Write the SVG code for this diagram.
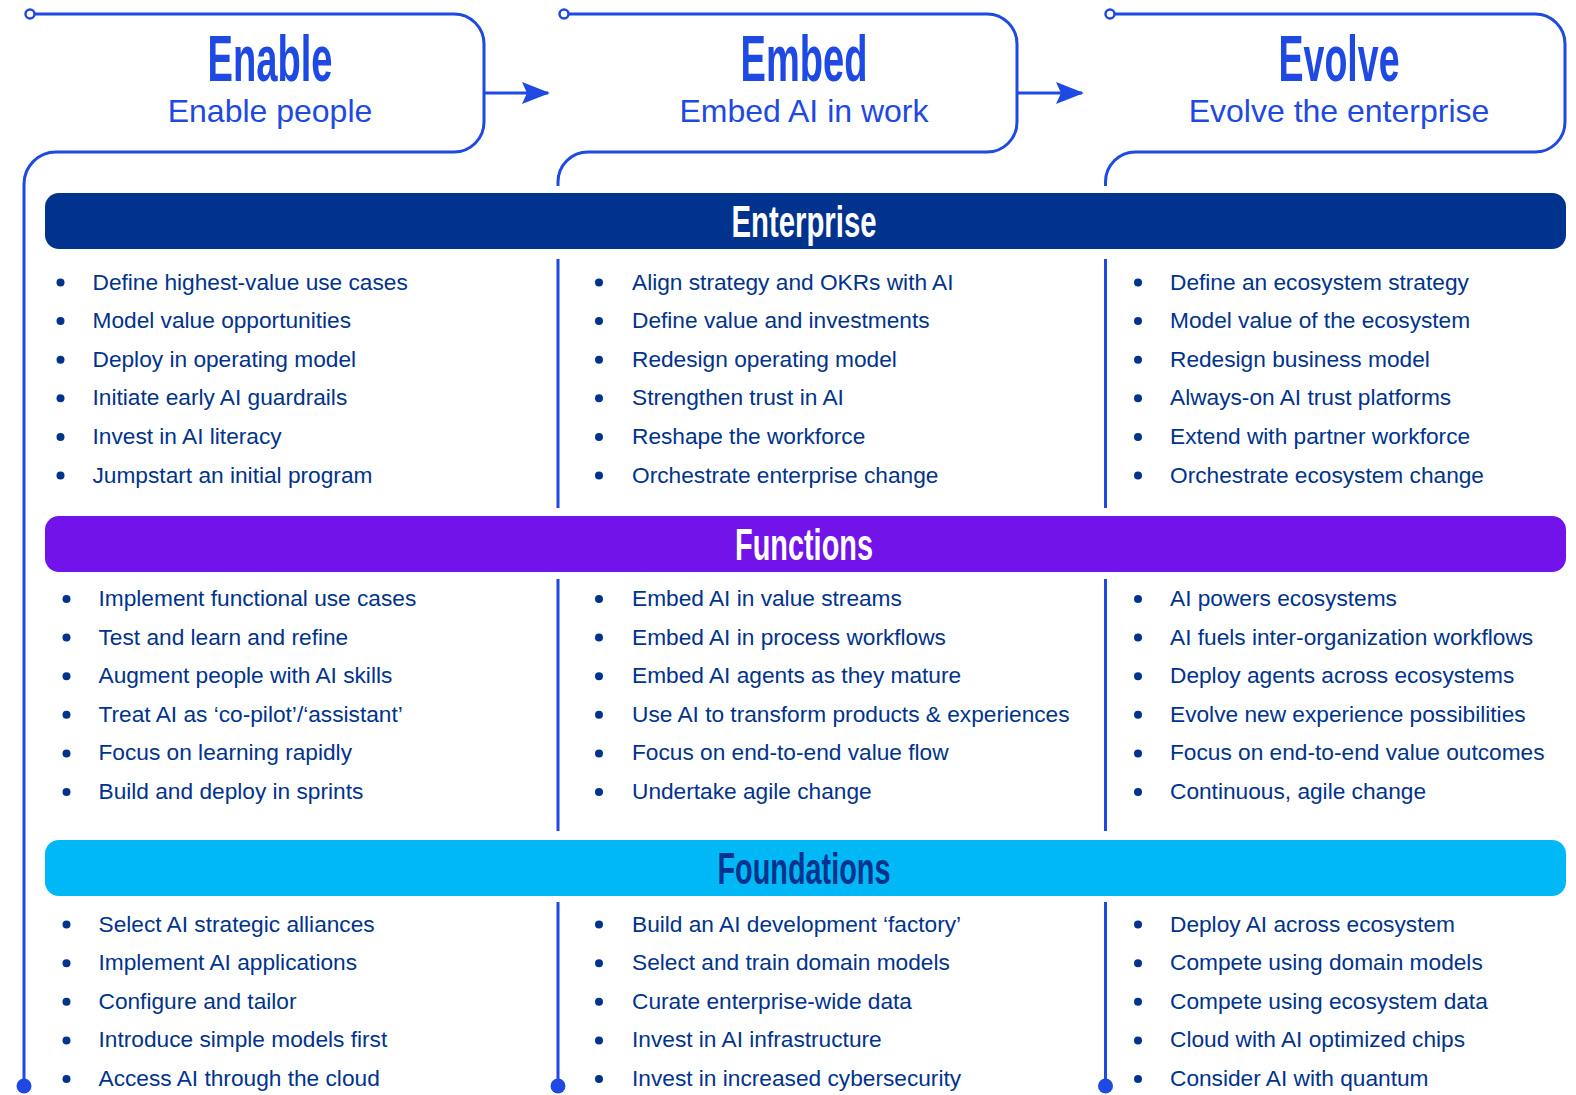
<svg xmlns="http://www.w3.org/2000/svg" width="1576" height="1095" viewBox="0 0 1576 1095">
<defs>
<style>
.ln{fill:none;stroke:#1E49E2;stroke-width:3}
.oc{fill:#fff;stroke:#1E49E2;stroke-width:2.5}
.dot{fill:#1E49E2}
.h{font-family:"Liberation Sans",Arial,sans-serif;font-weight:700;font-size:64px;fill:#1E49E2;text-anchor:middle}
.sub{font-family:"Liberation Sans",Arial,sans-serif;font-size:32px;fill:#1E49E2;text-anchor:middle}
.bt{font-family:"Liberation Sans",Arial,sans-serif;font-weight:700;font-size:45px;text-anchor:middle}
.it{font-family:"Liberation Sans",Arial,sans-serif;font-size:22.7px;fill:#00338D}
.b{fill:#00338D}
</style>
<marker id="ah" viewBox="0 0 28 22" refX="26" refY="11" markerWidth="28" markerHeight="22" markerUnits="userSpaceOnUse" orient="auto">
<path d="M0,0 L28,11 L0,22 L5,11 Z" fill="#1E49E2"/>
</marker>
</defs>
<rect width="1576" height="1095" fill="#fff"/>

<g id="connectors">
<path class="ln" d="M484,93 H548" marker-end="url(#ah)"/>
<path class="ln" d="M1017,93 H1082" marker-end="url(#ah)"/>
</g>

<g id="phase-enable">
<path class="ln" d="M34,14 H454 A30,30 0 0 1 484,44 V122 A30,30 0 0 1 454,152 H56 A32,32 0 0 0 24,184 V1084"/>
<circle class="oc" cx="30" cy="14" r="4.5"/>
<circle class="dot" cx="24" cy="1086" r="7.5"/>
<text class="h" x="270" y="81" textLength="125" lengthAdjust="spacingAndGlyphs">Enable</text>
<text class="sub" x="270" y="122">Enable people</text>
</g>

<g id="phase-embed">
<path class="ln" d="M568,14 H987 A30,30 0 0 1 1017,44 V122 A30,30 0 0 1 987,152 H588 A30,30 0 0 0 558,182 V186"/>
<path class="ln" d="M558,259 V508 M558,579 V831 M558,902 V1084"/>
<circle class="oc" cx="564" cy="14" r="4.5"/>
<circle class="dot" cx="558" cy="1086" r="7.5"/>
<text class="h" x="804" y="81" textLength="127" lengthAdjust="spacingAndGlyphs">Embed</text>
<text class="sub" x="804" y="122">Embed AI in work</text>
</g>

<g id="phase-evolve">
<path class="ln" d="M1114,14 H1535 A30,30 0 0 1 1565,44 V122 A30,30 0 0 1 1535,152 H1135.5 A30,30 0 0 0 1105.5,182 V186"/>
<path class="ln" d="M1105.5,259 V508 M1105.5,579 V831 M1105.5,902 V1084"/>
<circle class="oc" cx="1110" cy="14" r="4.5"/>
<circle class="dot" cx="1105.5" cy="1086" r="7.5"/>
<text class="h" x="1339" y="81" textLength="121" lengthAdjust="spacingAndGlyphs">Evolve</text>
<text class="sub" x="1339" y="122">Evolve the enterprise</text>
</g>

<g id="band-enterprise">
<rect x="45" y="193" width="1521" height="56" rx="14" fill="#00338D"/>
<text class="bt" x="804" y="237" fill="#fff" textLength="145" lengthAdjust="spacingAndGlyphs">Enterprise</text>
</g>
<g id="band-functions">
<rect x="45" y="516" width="1521" height="56" rx="14" fill="#7213EA"/>
<text class="bt" x="804" y="560" fill="#fff" textLength="138" lengthAdjust="spacingAndGlyphs">Functions</text>
</g>
<g id="band-foundations">
<rect x="45" y="840" width="1521" height="56" rx="14" fill="#00B8F5"/>
<text class="bt" x="804" y="884" fill="#00338D" textLength="173" lengthAdjust="spacingAndGlyphs">Foundations</text>
</g>

<g id="enterprise-enable">
<circle class="b" cx="60.5" cy="282.5" r="4"/><text class="it" x="92.5" y="289.5">Define highest-value use cases</text>
<circle class="b" cx="60.5" cy="321.1" r="4"/><text class="it" x="92.5" y="328.1">Model value opportunities</text>
<circle class="b" cx="60.5" cy="359.7" r="4"/><text class="it" x="92.5" y="366.7">Deploy in operating model</text>
<circle class="b" cx="60.5" cy="398.3" r="4"/><text class="it" x="92.5" y="405.3">Initiate early AI guardrails</text>
<circle class="b" cx="60.5" cy="436.9" r="4"/><text class="it" x="92.5" y="443.9">Invest in AI literacy</text>
<circle class="b" cx="60.5" cy="475.5" r="4"/><text class="it" x="92.5" y="482.5">Jumpstart an initial program</text>
</g>
<g id="enterprise-embed">
<circle class="b" cx="599" cy="282.5" r="4"/><text class="it" x="632" y="289.5">Align strategy and OKRs with AI</text>
<circle class="b" cx="599" cy="321.1" r="4"/><text class="it" x="632" y="328.1">Define value and investments</text>
<circle class="b" cx="599" cy="359.7" r="4"/><text class="it" x="632" y="366.7">Redesign operating model</text>
<circle class="b" cx="599" cy="398.3" r="4"/><text class="it" x="632" y="405.3">Strengthen trust in AI</text>
<circle class="b" cx="599" cy="436.9" r="4"/><text class="it" x="632" y="443.9">Reshape the workforce</text>
<circle class="b" cx="599" cy="475.5" r="4"/><text class="it" x="632" y="482.5">Orchestrate enterprise change</text>
</g>
<g id="enterprise-evolve">
<circle class="b" cx="1138" cy="282.5" r="4"/><text class="it" x="1170" y="289.5">Define an ecosystem strategy</text>
<circle class="b" cx="1138" cy="321.1" r="4"/><text class="it" x="1170" y="328.1">Model value of the ecosystem</text>
<circle class="b" cx="1138" cy="359.7" r="4"/><text class="it" x="1170" y="366.7">Redesign business model</text>
<circle class="b" cx="1138" cy="398.3" r="4"/><text class="it" x="1170" y="405.3">Always-on AI trust platforms</text>
<circle class="b" cx="1138" cy="436.9" r="4"/><text class="it" x="1170" y="443.9">Extend with partner workforce</text>
<circle class="b" cx="1138" cy="475.5" r="4"/><text class="it" x="1170" y="482.5">Orchestrate ecosystem change</text>
</g>

<g id="functions-enable">
<circle class="b" cx="66.5" cy="599" r="4"/><text class="it" x="98.5" y="606">Implement functional use cases</text>
<circle class="b" cx="66.5" cy="637.6" r="4"/><text class="it" x="98.5" y="644.6">Test and learn and refine</text>
<circle class="b" cx="66.5" cy="676.2" r="4"/><text class="it" x="98.5" y="683.2">Augment people with AI skills</text>
<circle class="b" cx="66.5" cy="714.8" r="4"/><text class="it" x="98.5" y="721.8">Treat AI as ‘co-pilot’/‘assistant’</text>
<circle class="b" cx="66.5" cy="753.4" r="4"/><text class="it" x="98.5" y="760.4">Focus on learning rapidly</text>
<circle class="b" cx="66.5" cy="792" r="4"/><text class="it" x="98.5" y="799">Build and deploy in sprints</text>
</g>
<g id="functions-embed">
<circle class="b" cx="599" cy="599" r="4"/><text class="it" x="632" y="606">Embed AI in value streams</text>
<circle class="b" cx="599" cy="637.6" r="4"/><text class="it" x="632" y="644.6">Embed AI in process workflows</text>
<circle class="b" cx="599" cy="676.2" r="4"/><text class="it" x="632" y="683.2">Embed AI agents as they mature</text>
<circle class="b" cx="599" cy="714.8" r="4"/><text class="it" x="632" y="721.8">Use AI to transform products &amp; experiences</text>
<circle class="b" cx="599" cy="753.4" r="4"/><text class="it" x="632" y="760.4">Focus on end-to-end value flow</text>
<circle class="b" cx="599" cy="792" r="4"/><text class="it" x="632" y="799">Undertake agile change</text>
</g>
<g id="functions-evolve">
<circle class="b" cx="1138" cy="599" r="4"/><text class="it" x="1170" y="606">AI powers ecosystems</text>
<circle class="b" cx="1138" cy="637.6" r="4"/><text class="it" x="1170" y="644.6">AI fuels inter-organization workflows</text>
<circle class="b" cx="1138" cy="676.2" r="4"/><text class="it" x="1170" y="683.2">Deploy agents across ecosystems</text>
<circle class="b" cx="1138" cy="714.8" r="4"/><text class="it" x="1170" y="721.8">Evolve new experience possibilities</text>
<circle class="b" cx="1138" cy="753.4" r="4"/><text class="it" x="1170" y="760.4">Focus on end-to-end value outcomes</text>
<circle class="b" cx="1138" cy="792" r="4"/><text class="it" x="1170" y="799">Continuous, agile change</text>
</g>

<g id="foundations-enable">
<circle class="b" cx="66.5" cy="924.6" r="4"/><text class="it" x="98.5" y="931.6">Select AI strategic alliances</text>
<circle class="b" cx="66.5" cy="963.2" r="4"/><text class="it" x="98.5" y="970.2">Implement AI applications</text>
<circle class="b" cx="66.5" cy="1001.8" r="4"/><text class="it" x="98.5" y="1008.8">Configure and tailor</text>
<circle class="b" cx="66.5" cy="1040.4" r="4"/><text class="it" x="98.5" y="1047.4">Introduce simple models first</text>
<circle class="b" cx="66.5" cy="1079" r="4"/><text class="it" x="98.5" y="1086">Access AI through the cloud</text>
</g>
<g id="foundations-embed">
<circle class="b" cx="599" cy="924.6" r="4"/><text class="it" x="632" y="931.6">Build an AI development ‘factory’</text>
<circle class="b" cx="599" cy="963.2" r="4"/><text class="it" x="632" y="970.2">Select and train domain models</text>
<circle class="b" cx="599" cy="1001.8" r="4"/><text class="it" x="632" y="1008.8">Curate enterprise-wide data</text>
<circle class="b" cx="599" cy="1040.4" r="4"/><text class="it" x="632" y="1047.4">Invest in AI infrastructure</text>
<circle class="b" cx="599" cy="1079" r="4"/><text class="it" x="632" y="1086">Invest in increased cybersecurity</text>
</g>
<g id="foundations-evolve">
<circle class="b" cx="1138" cy="924.6" r="4"/><text class="it" x="1170" y="931.6">Deploy AI across ecosystem</text>
<circle class="b" cx="1138" cy="963.2" r="4"/><text class="it" x="1170" y="970.2">Compete using domain models</text>
<circle class="b" cx="1138" cy="1001.8" r="4"/><text class="it" x="1170" y="1008.8">Compete using ecosystem data</text>
<circle class="b" cx="1138" cy="1040.4" r="4"/><text class="it" x="1170" y="1047.4">Cloud with AI optimized chips</text>
<circle class="b" cx="1138" cy="1079" r="4"/><text class="it" x="1170" y="1086">Consider AI with quantum</text>
</g>
</svg>
